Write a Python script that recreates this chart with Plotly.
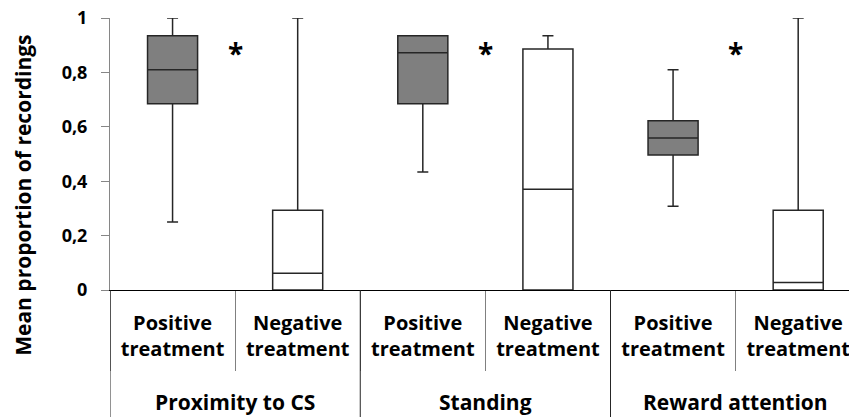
import plotly.graph_objects as go

# Data (proportions 0..1)
behaviours = ["Proximity to CS", "Standing", "Reward attention"]
treatments = ["Positive<br>treatment", "Negative<br>treatment"]

pos_lower = [0.25, 0.434, 0.308]
pos_q1 = [0.685, 0.685, 0.496]
pos_median = [0.81, 0.872, 0.559]
pos_q3 = [0.935, 0.935, 0.622]
pos_upper = [1.0, 0.935, 0.81]

neg_lower = [0.0, 0.0, 0.0]
neg_q1 = [0.0, 0.0, 0.0]
neg_median = [0.062, 0.37, 0.028]
neg_q3 = [0.293, 0.886, 0.293]
neg_upper = [1.0, 0.935, 1.0]

# significance markers, one per behaviour (between the two treatments)
sig_y = [0.87, 0.87, 0.87]

FONT = "Open Sans"

# one category per behaviour x treatment, in display order
cats = [f"{b} | {t}" for b in behaviours for t in treatments]
pos_cats = cats[0::2]
neg_cats = cats[1::2]

fig = go.Figure()
fig.add_trace(go.Box(
    x=pos_cats,
    lowerfence=pos_lower, q1=pos_q1, median=pos_median, q3=pos_q3, upperfence=pos_upper,
    fillcolor="#7f7f7f", line=dict(color="#262626", width=1.5),
    width=0.4, whiskerwidth=0.22, name="Positive", showlegend=False, hoverinfo="skip",
))
fig.add_trace(go.Box(
    x=neg_cats,
    lowerfence=neg_lower, q1=neg_q1, median=neg_median, q3=neg_q3, upperfence=neg_upper,
    fillcolor="white", line=dict(color="#262626", width=1.5),
    width=0.4, whiskerwidth=0.22, name="Negative", showlegend=False, hoverinfo="skip",
))

# asterisks and group labels, placed on the category index scale
for i, (b, ys) in enumerate(zip(behaviours, sig_y)):
    centre = 2 * i + 0.5
    fig.add_annotation(x=centre, y=ys, xref="x", yref="y", text="<b>*</b>",
                       showarrow=False, font=dict(family=FONT, size=28, color="black"))
    fig.add_annotation(x=centre, y=-0.41, xref="x", yref="paper", yanchor="middle",
                       text=f"<b>{b}</b>", showarrow=False,
                       font=dict(family=FONT, size=21, color="black"))

# y axis title, sitting lower than the plot centre as in the original
fig.add_annotation(x=-0.1165, y=0.35, xref="paper", yref="paper", xanchor="center", yanchor="middle",
                   text="<b>Mean proportion of recordings</b>", textangle=-90, showarrow=False,
                   font=dict(family=FONT, size=21, color="black"))

# group dividers down to the bottom of the figure
for k in range(len(behaviours) + 1):
    fig.add_shape(type="line", xref="x", yref="paper", x0=2 * k - 0.5, x1=2 * k - 0.5,
                  y0=0, y1=-0.47, line=dict(color="#262626", width=1))

fig.update_layout(
    width=849, height=409,
    margin=dict(l=102, r=0, t=10, b=127),
    plot_bgcolor="white", paper_bgcolor="white",
    separators=",.",
    boxmode="overlay",
    font=dict(family=FONT, size=18, color="black"),
)
fig.update_xaxes(
    type="category", categoryorder="array", categoryarray=cats,
    tickmode="array", tickvals=cats, ticktext=[f"<b>{t}</b>" for b in behaviours for t in treatments],
    range=[-0.5, len(cats) - 0.53],
    showline=True, linecolor="black", linewidth=1,
    ticks="outside", tickson="boundaries", ticklen=80, tickcolor="#808080",
    tickfont=dict(family=FONT, size=20, color="black"),
    ticklabelstandoff=15,
    showgrid=False, automargin=False,
)
fig.update_yaxes(
    range=[0, 1], tickvals=[0, 0.2, 0.4, 0.6, 0.8, 1], tickformat=".1~f",
    showline=True, linecolor="#868686", linewidth=1,
    ticks="outside", ticklen=8, tickcolor="#868686",
    ticklabelstandoff=10, ticklabeloverflow="allow",
    showgrid=False, zeroline=False, automargin=False,
    tickfont=dict(family=FONT, size=18, color="black", weight="bold"),
)

fig.write_html("out.html")
